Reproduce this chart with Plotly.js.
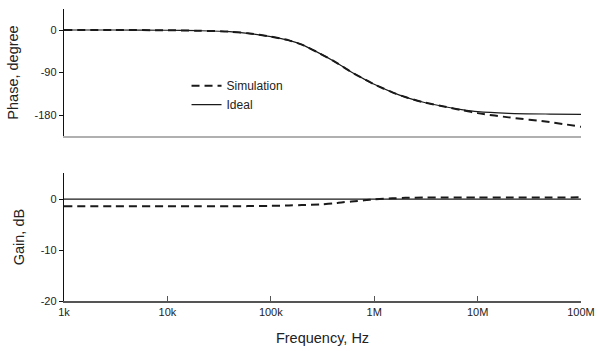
<!DOCTYPE html>
<html>
<head>
<meta charset="utf-8">
<script src="https://cdn.plot.ly/plotly-3.0.1.min.js"></script>
<style>html,body{margin:0;padding:0;background:#fff;}#chart{width:598px;height:351px;}</style>
</head>
<body>
<div id="chart"></div>
<script>
// Frequency points (Hz)
const freq = [1e3, 3e3, 1e4, 2e4, 4e4, 6e4, 1e5, 1.5e5, 2e5, 3e5, 4e5, 5e5, 6e5, 8e5, 1e6, 1.5e6, 2e6, 3e6, 5e6, 7e6, 1e7, 2e7, 5e7, 1e8];
// Phase, degree
const phaseIdeal = [0, 0, -0.5, -1.5, -3.5, -7, -14, -22, -31, -50, -65, -78, -89, -104, -115, -132, -142, -153, -163, -168.5, -173, -176.5, -178, -178.5];
const phaseSim   = [0, 0, -0.5, -1.5, -3.5, -7, -14, -22, -31, -50, -65, -78, -89, -104, -115, -132, -142, -153, -163, -169.5, -176, -185, -195, -205];
// Gain, dB
const gainIdeal = [0, 0, 0, 0, 0, 0, 0, 0, 0, 0, 0, 0, 0, 0, 0, 0, 0, 0, 0, 0, 0, 0, 0, 0];
const gainSim   = [-1.4, -1.4, -1.4, -1.4, -1.4, -1.38, -1.33, -1.25, -1.18, -1.05, -0.85, -0.62, -0.48, -0.25, -0.05, 0.15, 0.25, 0.3, 0.3, 0.3, 0.3, 0.3, 0.3, 0.35];
// Tick labels
const xTickVals = [1e3, 1e4, 1e5, 1e6, 1e7, 1e8];
const xTickText = ["1k", "10k", "100k", "1M", "10M", "100M"];
const phaseTickVals = [0, -90, -180];
const phaseTickText = ["0", "-90", "-180"];
const gainTickVals = [0, -10, -20];
const gainTickText = ["0", "-10", "-20"];

const simStyle = {color: '#1a1a1a', width: 2, dash: '8px,5px', shape: 'spline', smoothing: 0.8};
const idealStyle = {color: '#1a1a1a', width: 1.2, shape: 'spline', smoothing: 0.8};

const traces = [
  {x: freq, y: phaseSim, type: 'scatter', mode: 'lines', name: 'Simulation', line: simStyle, xaxis: 'x', yaxis: 'y'},
  {x: freq, y: phaseIdeal, type: 'scatter', mode: 'lines', name: 'Ideal', line: idealStyle, xaxis: 'x', yaxis: 'y'},
  {x: freq, y: gainIdeal, type: 'scatter', mode: 'lines', name: 'Ideal', line: idealStyle, xaxis: 'x2', yaxis: 'y2', showlegend: false},
  {x: freq, y: gainSim, type: 'scatter', mode: 'lines', name: 'Simulation', line: simStyle, xaxis: 'x2', yaxis: 'y2', showlegend: false}
];

const font = {family: 'Liberation Sans, Arial, sans-serif', size: 11, color: '#222'};

const layout = {
  width: 598, height: 351,
  margin: {l: 64, r: 17, t: 9, b: 50},
  paper_bgcolor: '#fff', plot_bgcolor: '#fff',
  font: font,
  showlegend: true,
  legend: {x: 0.237, y: 0.787, xanchor: 'left', yanchor: 'top', bgcolor: 'rgba(0,0,0,0)',
           font: {family: font.family, size: 12, color: '#222'}, itemwidth: 30, tracegroupgap: 0},
  xaxis: {type: 'log', range: [3, 8], domain: [0, 1], anchor: 'y',
          showticklabels: false, ticks: '', showgrid: false, zeroline: false,
          showline: true, linecolor: '#b0b0b0', linewidth: 1.5},
  yaxis: {range: [-224.5, 44.5], domain: [0.565, 1], anchor: 'x',
          tickvals: phaseTickVals, ticktext: phaseTickText,
          ticks: 'outside', ticklen: 4, tickcolor: '#111', tickwidth: 1,
          showgrid: false, zeroline: false, showline: true, linecolor: '#111', linewidth: 1.2,
          title: {text: 'Phase, degree', font: {family: font.family, size: 14.5, color: '#222'}, standoff: 12}},
  xaxis2: {type: 'log', range: [3, 8], domain: [0, 1], anchor: 'y2',
           tickvals: xTickVals, ticktext: xTickText,
           ticks: 'inside', ticklen: 5, tickcolor: '#555', tickwidth: 1,
           showgrid: false, zeroline: false, showline: true, linecolor: '#555', linewidth: 1.5,
           title: {text: 'Frequency, Hz', font: {family: font.family, size: 14.5, color: '#222'}, standoff: 16}},
  yaxis2: {range: [-20, 5.1], domain: [0, 0.438], anchor: 'x2',
           tickvals: gainTickVals, ticktext: gainTickText,
           ticks: 'outside', ticklen: 4, tickcolor: '#111', tickwidth: 1,
           showgrid: false, zeroline: false, showline: true, linecolor: '#111', linewidth: 1.2,
           title: {text: 'Gain, dB', font: {family: font.family, size: 14.5, color: '#222'}, standoff: 12}}
};

Plotly.newPlot('chart', traces, layout, {displayModeBar: false, staticPlot: true});
</script>
</body>
</html>
